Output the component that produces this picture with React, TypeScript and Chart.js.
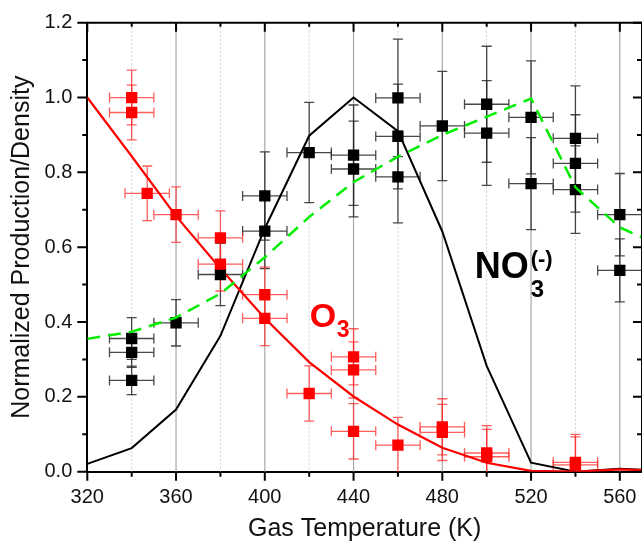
import React, { useEffect, useRef } from "react";
import { Chart, registerables } from "chart.js";

Chart.register(...registerables);

const FONT = '"Liberation Sans", Arimo, Arial, Helvetica, sans-serif';

// ---------- axis ----------
const X_MIN = 320;
const X_MAX = 570;
const Y_MIN = 0;
const Y_MAX = 1.2;
const xTickValues = [320, 340, 360, 380, 400, 420, 440, 460, 480, 500, 520, 540, 560];
const xMajorTicks = [320, 360, 400, 440, 480, 520, 560];
const yTickValues = [0, 0.1, 0.2, 0.3, 0.4, 0.5, 0.6, 0.7, 0.8, 0.9, 1.0, 1.1, 1.2];
const yMajorTicks = [0, 0.2, 0.4, 0.6, 0.8, 1.0, 1.2];

// ---------- measured O3 (red squares) ----------
const o3T = [340, 340, 347, 360, 380, 380, 400, 400, 420, 440, 440, 440, 460, 480, 480, 500, 500, 540, 540];
const o3V = [1.0, 0.96, 0.744, 0.687, 0.625, 0.555, 0.473, 0.41, 0.209, 0.307, 0.272, 0.108, 0.071, 0.12, 0.105, 0.05, 0.04, 0.025, 0.018];
const o3VErr = [0.073, 0.073, 0.073, 0.074, 0.072, 0.072, 0.074, 0.073, 0.074, 0.075, 0.075, 0.074, 0.074, 0.075, 0.075, 0.073, 0.073, 0.075, 0.075];
const o3TErr = [10, 10, 10, 10, 10, 10, 10, 10, 10, 10, 10, 10, 10, 10, 10, 10, 10, 10, 10];

// ---------- measured NO3(-) (black squares) ----------
const no3T = [340, 340, 340, 360, 380, 400, 400, 420, 440, 440, 460, 460, 460, 480, 500, 500, 520, 520, 540, 540, 540, 560, 560];
const no3V = [0.356, 0.319, 0.244, 0.398, 0.527, 0.737, 0.643, 0.853, 0.846, 0.809, 0.999, 0.896, 0.788, 0.924, 0.982, 0.905, 0.947, 0.77, 0.891, 0.824, 0.754, 0.687, 0.538];
const no3VErr = [0.056, 0.04, 0.038, 0.062, 0.083, 0.118, 0.1, 0.134, 0.134, 0.128, 0.157, 0.14, 0.123, 0.146, 0.155, 0.14, 0.151, 0.123, 0.14, 0.13, 0.117, 0.11, 0.084];
const no3TErr = [10, 10, 10, 10, 10, 10, 10, 10, 10, 10, 10, 10, 10, 10, 10, 10, 10, 10, 10, 10, 10, 10, 10];

// ---------- model curves ----------
const modelT = [320, 340, 360, 380, 400, 420, 440, 460, 480, 500, 520, 540, 560, 580];
const o3Model = [1.0, 0.843, 0.683, 0.543, 0.41, 0.293, 0.201, 0.126, 0.064, 0.024, 0.002, 0.0, 0.006, 0.002];
const no3Model = [0.021, 0.063, 0.166, 0.363, 0.65, 0.898, 1.0, 0.91, 0.642, 0.283, 0.024, 0.0, 0.008, 0.003];
const greenModel = [0.355, 0.374, 0.412, 0.476, 0.573, 0.681, 0.774, 0.842, 0.9, 0.949, 0.997, 0.76, 0.653, 0.6];

// ---------- annotation anchors (data space) ----------
const O3_LABEL = { t: 420.3, v: 0.386 };
const NO3_LABEL = { t: 494.6, v: 0.517 };

const pts = (xs: number[], ys: number[]) => xs.map((x, i) => ({ x, y: ys[i] }));
const isIn = (arr: number[], v: number) => arr.some((m) => Math.abs(m - v) < 1e-6);

const decorPlugin = {
  id: "decor",
  beforeDatasetsDraw(chart: any) {
    const { ctx, chartArea: a, scales } = chart;
    const x = scales.x;
    const y = scales.y;
    ctx.save();
    // vertical grid lines
    x.ticks.forEach((tk: any) => {
      const v = tk.value;
      if (v <= X_MIN || v >= X_MAX) return;
      const px = x.getPixelForValue(v);
      const major = isIn(xMajorTicks, v);
      ctx.beginPath();
      ctx.setLineDash(major ? [] : [2, 2]);
      ctx.strokeStyle = major ? "#a8a8a8" : "#cfcfcf";
      ctx.lineWidth = major ? 1.2 : 1;
      ctx.moveTo(px, a.top);
      ctx.lineTo(px, a.bottom);
      ctx.stroke();
    });
    ctx.setLineDash([]);
    // error bars
    ctx.beginPath();
    ctx.rect(a.left, a.top, a.right - a.left, a.bottom - a.top);
    ctx.clip();
    const drawErr = (ts: number[], vs: number[], te: number[], ve: number[], color: string) => {
      ctx.strokeStyle = color;
      ctx.lineWidth = 1.3;
      const cap = 5;
      ts.forEach((t, i) => {
        const px = x.getPixelForValue(t);
        const py = y.getPixelForValue(vs[i]);
        const xl = x.getPixelForValue(t - te[i]);
        const xr = x.getPixelForValue(t + te[i]);
        const yt = y.getPixelForValue(vs[i] + ve[i]);
        const yb = y.getPixelForValue(vs[i] - ve[i]);
        ctx.beginPath();
        ctx.moveTo(xl, py); ctx.lineTo(xr, py);
        ctx.moveTo(xl, py - cap); ctx.lineTo(xl, py + cap);
        ctx.moveTo(xr, py - cap); ctx.lineTo(xr, py + cap);
        ctx.moveTo(px, yt); ctx.lineTo(px, yb);
        ctx.moveTo(px - cap, yt); ctx.lineTo(px + cap, yt);
        ctx.moveTo(px - cap, yb); ctx.lineTo(px + cap, yb);
        ctx.stroke();
      });
    };
    drawErr(no3T, no3V, no3TErr, no3VErr, "rgba(40,40,40,0.85)");
    drawErr(o3T, o3V, o3TErr, o3VErr, "rgba(255,40,40,0.75)");
    ctx.restore();
  },
  afterDraw(chart: any) {
    const { ctx, chartArea: a, scales } = chart;
    const x = scales.x;
    const y = scales.y;
    ctx.save();
    ctx.strokeStyle = "#000";
    ctx.lineWidth = 2;
    // top & right frame
    ctx.beginPath();
    ctx.moveTo(a.left - 1, a.top);
    ctx.lineTo(a.right, a.top);
    ctx.lineTo(a.right, a.bottom);
    ctx.stroke();
    // x ticks (bottom outward, top inward)
    x.ticks.forEach((tk: any) => {
      const v = tk.value;
      const px = x.getPixelForValue(v);
      const major = isIn(xMajorTicks, v);
      ctx.beginPath();
      ctx.moveTo(px, a.bottom);
      ctx.lineTo(px, a.bottom + (major ? 9 : 5));
      ctx.moveTo(px, a.top);
      ctx.lineTo(px, a.top + (major ? 9 : 4));
      ctx.stroke();
    });
    // y ticks (left outward, right inward)
    y.ticks.forEach((tk: any) => {
      const v = tk.value;
      const py = y.getPixelForValue(v);
      const major = isIn(yMajorTicks, v);
      ctx.beginPath();
      ctx.moveTo(a.left, py);
      ctx.lineTo(a.left - (major ? 10 : 5), py);
      ctx.moveTo(a.right, py);
      ctx.lineTo(a.right - (major ? 9 : 5), py);
      ctx.stroke();
    });
    // annotations
    ctx.textBaseline = "alphabetic";
    ctx.textAlign = "left";
    // O3
    let ax = x.getPixelForValue(O3_LABEL.t);
    let ay = y.getPixelForValue(O3_LABEL.v);
    ctx.fillStyle = "#ff0000";
    ctx.font = `bold 34px ${FONT}`;
    ctx.fillText("O", ax, ay);
    let w = ctx.measureText("O").width;
    ctx.font = `bold 23px ${FONT}`;
    ctx.fillText("3", ax + w + 0.5, ay + 9.5);
    // NO3(-)
    ax = x.getPixelForValue(NO3_LABEL.t);
    ay = y.getPixelForValue(NO3_LABEL.v);
    ctx.fillStyle = "#000";
    ctx.font = `bold 36px ${FONT}`;
    ctx.fillText("NO", ax, ay);
    w = ctx.measureText("NO").width;
    ctx.font = `bold 24px ${FONT}`;
    ctx.fillText("3", ax + w + 2, ay + 18.5);
    ctx.font = `bold 22px ${FONT}`;
    ctx.fillText("(-)", ax + w + 2, ay - 12.5);
    ctx.restore();
  },
};

export default function App() {
  const ref = useRef<HTMLCanvasElement | null>(null);
  useEffect(() => {
    if (!ref.current) return;
    const chart = new Chart(ref.current, {
      type: "scatter",
      data: {
        datasets: [
          {
            label: "green",
            data: pts(modelT, greenModel),
            showLine: true,
            borderColor: "#00ee00",
            borderWidth: 2.5,
            borderDash: [13, 8],
            pointRadius: 0,
            fill: false,
            order: 0,
          },
          {
            label: "O3 data",
            data: pts(o3T, o3V),
            showLine: false,
            pointStyle: "rect",
            pointRadius: 8,
            backgroundColor: "#ff0000",
            borderColor: "#ff0000",
            borderWidth: 0,
            order: 1,
          },
          {
            label: "NO3 data",
            data: pts(no3T, no3V),
            showLine: false,
            pointStyle: "rect",
            pointRadius: 8,
            backgroundColor: "#000000",
            borderColor: "#000000",
            borderWidth: 0,
            order: 1,
          },
          {
            label: "O3 model",
            data: pts(modelT, o3Model),
            showLine: true,
            borderColor: "#ff0000",
            borderWidth: 2.2,
            pointRadius: 0,
            fill: false,
            order: 2,
          },
          {
            label: "NO3 model",
            data: pts(modelT, no3Model),
            showLine: true,
            borderColor: "#000000",
            borderWidth: 2,
            pointRadius: 0,
            fill: false,
            order: 2,
          },
        ],
      },
      options: {
        responsive: false,
        animation: false,
        devicePixelRatio: 1,
        layout: { padding: { left: 0, right: 5, top: 22.7, bottom: 0 } },
        plugins: { legend: { display: false }, tooltip: { enabled: false } },
        scales: {
          x: {
            type: "linear",
            min: X_MIN,
            max: X_MAX,
            afterBuildTicks: (s: any) => { s.ticks = xTickValues.map((v) => ({ value: v })); },
            afterFit: (s: any) => {
              s.height = 77.3;
              s.paddingLeft = 0; s.paddingRight = 0; s.paddingTop = 0; s.paddingBottom = 0;
            },
            grid: { display: true, drawOnChartArea: false, drawTicks: false },
            border: { display: true, color: "#000", width: 2 },
            ticks: {
              autoSkip: false,
              maxRotation: 0,
              padding: 14,
              color: "#111",
              font: { family: FONT, size: 20 },
              callback: (v: any) => (isIn(xMajorTicks, Number(v)) ? String(v) : ""),
            },
            title: {
              display: true,
              text: "Gas Temperature (K)",
              color: "#111",
              font: { family: FONT, size: 25 },
              padding: { top: 0, bottom: 5 },
            },
          },
          y: {
            type: "linear",
            min: Y_MIN,
            max: Y_MAX,
            afterBuildTicks: (s: any) => { s.ticks = yTickValues.map((v) => ({ value: v })); },
            afterFit: (s: any) => {
              s.width = 87.3;
              s.paddingLeft = 0; s.paddingRight = 0; s.paddingTop = 0; s.paddingBottom = 0;
            },
            grid: { display: true, drawOnChartArea: false, drawTicks: false },
            border: { display: true, color: "#000", width: 2 },
            ticks: {
              autoSkip: false,
              padding: 15,
              color: "#111",
              font: { family: FONT, size: 20 },
              callback: (v: any) => {
                const n = Number(v);
                return isIn(yMajorTicks, n) ? n.toFixed(1) : "";
              },
            },
            title: {
              display: true,
              text: "Normalized Production/Density",
              color: "#111",
              font: { family: FONT, size: 25 },
              padding: { top: 7, bottom: 0 },
            },
          },
        },
      },
      plugins: [decorPlugin],
    });
    return () => chart.destroy();
  }, []);

  return (
    <div style={{ position: "fixed", left: 0, top: 0, width: 642, height: 549, overflow: "hidden", background: "#fff" }}>
      <canvas ref={ref} width={650} height={549} style={{ display: "block" }} />
    </div>
  );
}
